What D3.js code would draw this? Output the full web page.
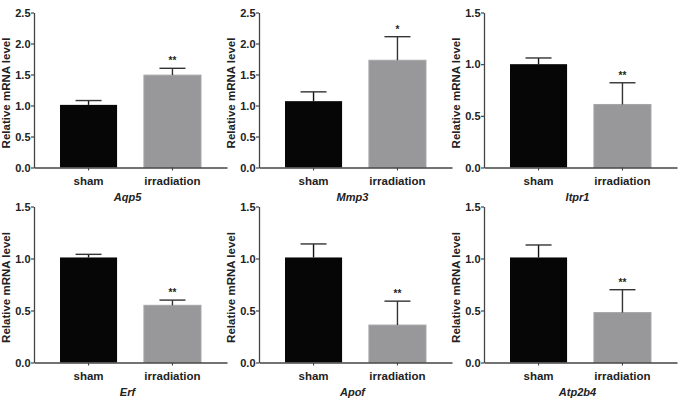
<!DOCTYPE html>
<html><head><meta charset="utf-8">
<script src="https://cdn.jsdelivr.net/npm/d3@7/dist/d3.min.js"></script>
<style>
html,body{margin:0;padding:0;background:#fff;}
text{font-family:"Liberation Sans",Arial,sans-serif;}
</style></head>
<body><svg id="c" width="685" height="400"></svg>
<script>
const genes = ["Aqp5","Mmp3","Itpr1","Erf","Apof","Atp2b4"];
const groups = ["sham","irradiation"];
const shamMean = [1.01,1.07,1.00,1.01,1.01,1.01];
const shamErr  = [0.07,0.15,0.06,0.03,0.13,0.12];
const irrMean  = [1.49,1.73,0.61,0.55,0.36,0.48];
const irrErr   = [0.11,0.38,0.21,0.05,0.23,0.22];
const sigLabels = ["**","*","**","**","**","**"];
const yMax = [2.5,2.5,1.5,1.5,1.5,1.5];
const yTicks = [[0,0.5,1,1.5,2,2.5],[0,0.5,1,1.5,2,2.5],[0,0.5,1,1.5],[0,0.5,1,1.5],[0,0.5,1,1.5],[0,0.5,1,1.5]];
const yLabel = "Relative mRNA level";

const svg = d3.select("#c");
const colX = [34, 259, 484];
const rowY = [[167.5, 12.5],[362.5, 206.5]];
const axisLen = 193;
const fills = ["#060606","#98989a"];
const ink = "#222";

genes.forEach((g,i)=>{
  const ox = colX[i%3], r = Math.floor(i/3);
  const [y0,y1] = rowY[r];
  const gp = svg.append("g").attr("transform",`translate(${ox},0)`);
  const x = d3.scaleBand().domain(groups).range([0,axisLen]).paddingInner(0.32).paddingOuter(0.31);
  const y = d3.scaleLinear().domain([0,yMax[i]]).range([y0,y1]);
  const means = [shamMean[i], irrMean[i]];
  const errs = [shamErr[i], irrErr[i]];

  groups.forEach((c,k)=>{
    gp.append("rect").attr("x",x(c)).attr("width",x.bandwidth())
      .attr("y",y(means[k])).attr("height",y(0)-y(means[k]))
      .attr("fill",fills[k]).attr("stroke",k?"#a6a6a8":"none").attr("stroke-width",1);
    const cx = x(c)+x.bandwidth()/2;
    gp.append("line").attr("x1",cx).attr("x2",cx).attr("y1",y(means[k])).attr("y2",y(means[k]+errs[k]))
      .attr("stroke",k?"#333":"#111").attr("stroke-width",1.4);
    gp.append("line").attr("x1",cx-13).attr("x2",cx+13).attr("y1",y(means[k]+errs[k])).attr("y2",y(means[k]+errs[k]))
      .attr("stroke","#333").attr("stroke-width",1.4);
    if(k===1){
      gp.append("text").attr("x",cx).attr("y",y(means[k]+errs[k])-4)
        .attr("text-anchor","middle").attr("font-size",10).attr("font-weight","bold").attr("fill",ink)
        .text(sigLabels[i]);
    }
  });

  const ya = d3.axisLeft(y).tickValues(yTicks[i]).tickFormat(d3.format(".1f")).tickSize(3).tickSizeOuter(0);
  const yg = gp.append("g").call(ya);
  yg.select(".domain").attr("stroke","#444").attr("stroke-width",1.3);
  yg.selectAll(".tick line").attr("stroke","#444").attr("stroke-width",1.2);
  yg.selectAll(".tick text").attr("font-size",11).attr("font-weight","bold").attr("fill",ink)
    .attr("font-family","Liberation Sans, Arial, sans-serif").attr("x",-3.5);

  const xa = d3.axisBottom(x).tickSize(3).tickSizeOuter(0);
  const xg = gp.append("g").attr("transform",`translate(0,${y0})`).call(xa);
  xg.select(".domain").attr("stroke","#444").attr("stroke-width",1.3);
  xg.selectAll(".tick line").attr("stroke","#444").attr("stroke-width",1.1);
  xg.selectAll(".tick text").attr("font-size",11.5).attr("font-weight","bold").attr("fill",ink)
    .attr("font-family","Liberation Sans, Arial, sans-serif").attr("dy","0.9em").attr("y",7);

  gp.append("text").attr("transform",`translate(-24,${(y0+y1)/2+3}) rotate(-90)`)
    .attr("text-anchor","middle").attr("font-size",11.5).attr("font-weight","bold").attr("fill",ink)
    .text(yLabel);

  gp.append("text").attr("x",axisLen/2-3).attr("y",y0+33)
    .attr("text-anchor","middle").attr("font-size",11).attr("font-weight","bold").attr("font-style","italic")
    .attr("fill",ink).text(g);
});
</script></body></html>
